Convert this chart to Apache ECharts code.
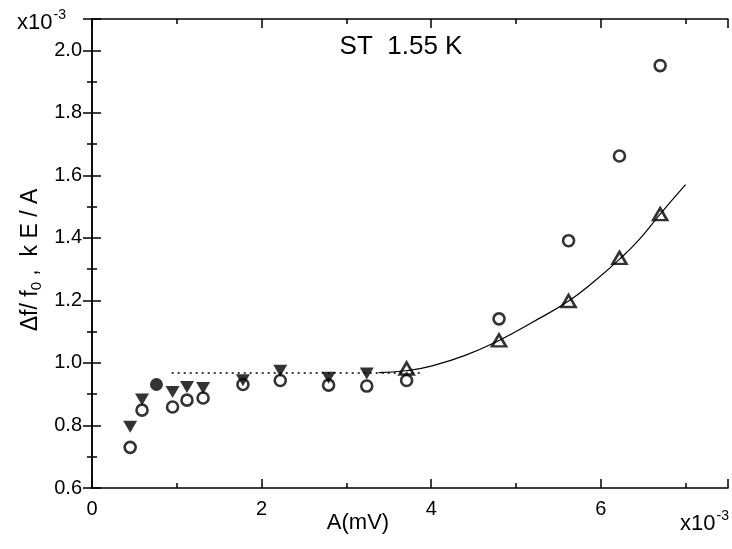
<!DOCTYPE html>
<html>
<head>
<meta charset="utf-8">
<style>
  html, body { margin: 0; padding: 0; background: #fff; }
  #chart { width: 732px; height: 549px; }
</style>
<script src="https://cdn.jsdelivr.net/npm/echarts@6/dist/echarts.min.js"></script>
</head>
<body>
<div id="chart"></div>
<script>
// Amplitudes A (x10^-3 mV) and normalised shifts (x10^-3)
const circleA  = [0.45, 0.59, 0.95, 1.12, 1.31, 1.78, 2.22, 2.79, 3.24, 3.71, 4.80, 5.62, 6.22, 6.70];
const circleY  = [0.730, 0.849, 0.859, 0.881, 0.888, 0.931, 0.944, 0.929, 0.926, 0.944, 1.141, 1.391, 1.662, 1.951];

const downA    = [0.45, 0.59, 0.95, 1.12, 1.31, 1.78, 2.22, 2.79, 3.24];
const downY    = [0.796, 0.883, 0.907, 0.923, 0.920, 0.945, 0.975, 0.953, 0.966];

const dotA     = [0.76];
const dotY     = [0.931];

const upA      = [3.71, 4.80, 5.62, 6.22, 6.70];
const upY      = [0.982, 1.072, 1.198, 1.336, 1.476];

// plateau level and the fitted rise
const plateauA = [0.94, 3.90];
const plateauY = [0.968, 0.968];

const fitA     = [3.38, 3.70, 4.00, 4.40, 4.80, 5.20, 5.62, 5.91, 6.23, 6.46, 6.70, 7.00];
const fitY     = [0.969, 0.975, 0.990, 1.024, 1.072, 1.131, 1.198, 1.258, 1.334, 1.397, 1.476, 1.570];

const xMin = 0, xMax = 7.5;
const yMin = 0.6, yMax = 2.1;

const pair = (xs, ys) => xs.map((x, i) => [x, ys[i]]);

const FONT = 'Liberation Sans, Arial, sans-serif';
const black = '#000';

function xAx(pos, interval, len, showLabel, showLine) {
  return {
    type: 'value', position: pos, min: xMin, max: xMax, interval: interval,
    axisLine: { show: showLine, lineStyle: { color: black, width: 1.5 } },
    axisTick: { show: true, inside: true, length: len, lineStyle: { color: black, width: 1.5 } },
    axisLabel: {
      show: showLabel, margin: 11, color: black, fontFamily: FONT, fontSize: 20,
      formatter: v => (Math.abs(v % 2) < 1e-9 && v <= 6) ? String(v) : ''
    },
    splitLine: { show: false }
  };
}
function yAx(pos, interval, len, showLabel, showLine) {
  return {
    type: 'value', position: pos, min: yMin, max: yMax, interval: interval,
    axisLine: { show: showLine, lineStyle: { color: black, width: 1.5 } },
    axisTick: { show: true, inside: true, length: len, lineStyle: { color: black, width: 1.5 } },
    axisLabel: {
      show: showLabel, margin: 10, color: black, fontFamily: FONT, fontSize: 20,
      formatter: v => v > 2.05 ? '' : v.toFixed(1)
    },
    splitLine: { show: false }
  };
}

const sciRich = {
  b: { fontFamily: FONT, fontSize: 22, fill: black, verticalAlign: 'bottom' },
  s: { fontFamily: FONT, fontSize: 14, fill: black, verticalAlign: 'top', padding: [0, 0, 12, 1] }
};

const chart = echarts.init(document.getElementById('chart'));
chart.setOption({
  backgroundColor: '#fff',
  animation: false,
  grid: { left: 92, right: 4, top: 19, bottom: 61, containLabel: false },
  xAxis: [
    xAx('bottom', 2, 9, true, true),
    xAx('bottom', 1, 5, false, false),
    xAx('top', 2, 9, false, true),
    xAx('top', 1, 5, false, false)
  ],
  yAxis: [
    yAx('left', 0.2, 9, true, true),
    yAx('left', 0.1, 5, false, false),
    yAx('right', 0.2, 9, false, true),
    yAx('right', 0.1, 5, false, false)
  ],
  series: [
    {
      type: 'line', data: pair(plateauA, plateauY), showSymbol: false, silent: true,
      lineStyle: { color: black, width: 1.5, type: [2, 4] }
    },
    {
      type: 'line', data: pair(fitA, fitY), smooth: true, showSymbol: false, silent: true,
      lineStyle: { color: black, width: 1.2 }
    },
    {
      type: 'scatter', data: pair(downA, downY), symbol: 'triangle', symbolRotate: 180,
      symbolSize: [14, 12], itemStyle: { color: black }
    },
    {
      type: 'scatter', data: pair(circleA, circleY), symbol: 'circle', symbolSize: 11,
      itemStyle: { color: 'rgba(0,0,0,0)', borderColor: black, borderWidth: 2.6 }
    },
    {
      type: 'scatter', data: pair(dotA, dotY), symbol: 'circle', symbolSize: 13,
      itemStyle: { color: black }
    },
    {
      type: 'scatter', data: pair(upA, upY), symbol: 'triangle', symbolSize: [14, 12],
      itemStyle: { color: 'rgba(0,0,0,0)', borderColor: black, borderWidth: 2.6 }
    }
  ],
  graphic: [
    {
      type: 'text', left: 17, top: 8,
      style: { text: '{b|x10}{s|-3}', fill: black, rich: sciRich }
    },
    {
      type: 'text', left: 680, top: 509,
      style: { text: '{b|x10}{s|-3}', fill: black, rich: sciRich }
    },
    {
      type: 'text', x: 401, y: 47,
      style: {
        text: 'ST  1.55 K', fill: black, fontFamily: FONT, fontSize: 26,
        align: 'center', verticalAlign: 'middle'
      }
    },
    {
      type: 'text', x: 358, y: 523,
      style: {
        text: 'A(mV)', fill: black, fontFamily: FONT, fontSize: 22,
        align: 'center', verticalAlign: 'middle'
      }
    },
    {
      type: 'text', x: 31, y: 260, rotation: Math.PI / 2,
      style: {
        text: '{a|Δf/ f}{s|0}{a| ,  k E / A}', fill: black,
        align: 'center', verticalAlign: 'middle',
        rich: {
          a: { fontFamily: FONT, fontSize: 23, fill: black },
          s: { fontFamily: FONT, fontSize: 15, fill: black, padding: [11, 0, 0, 0] }
        }
      }
    }
  ]
});
</script>
</body>
</html>
